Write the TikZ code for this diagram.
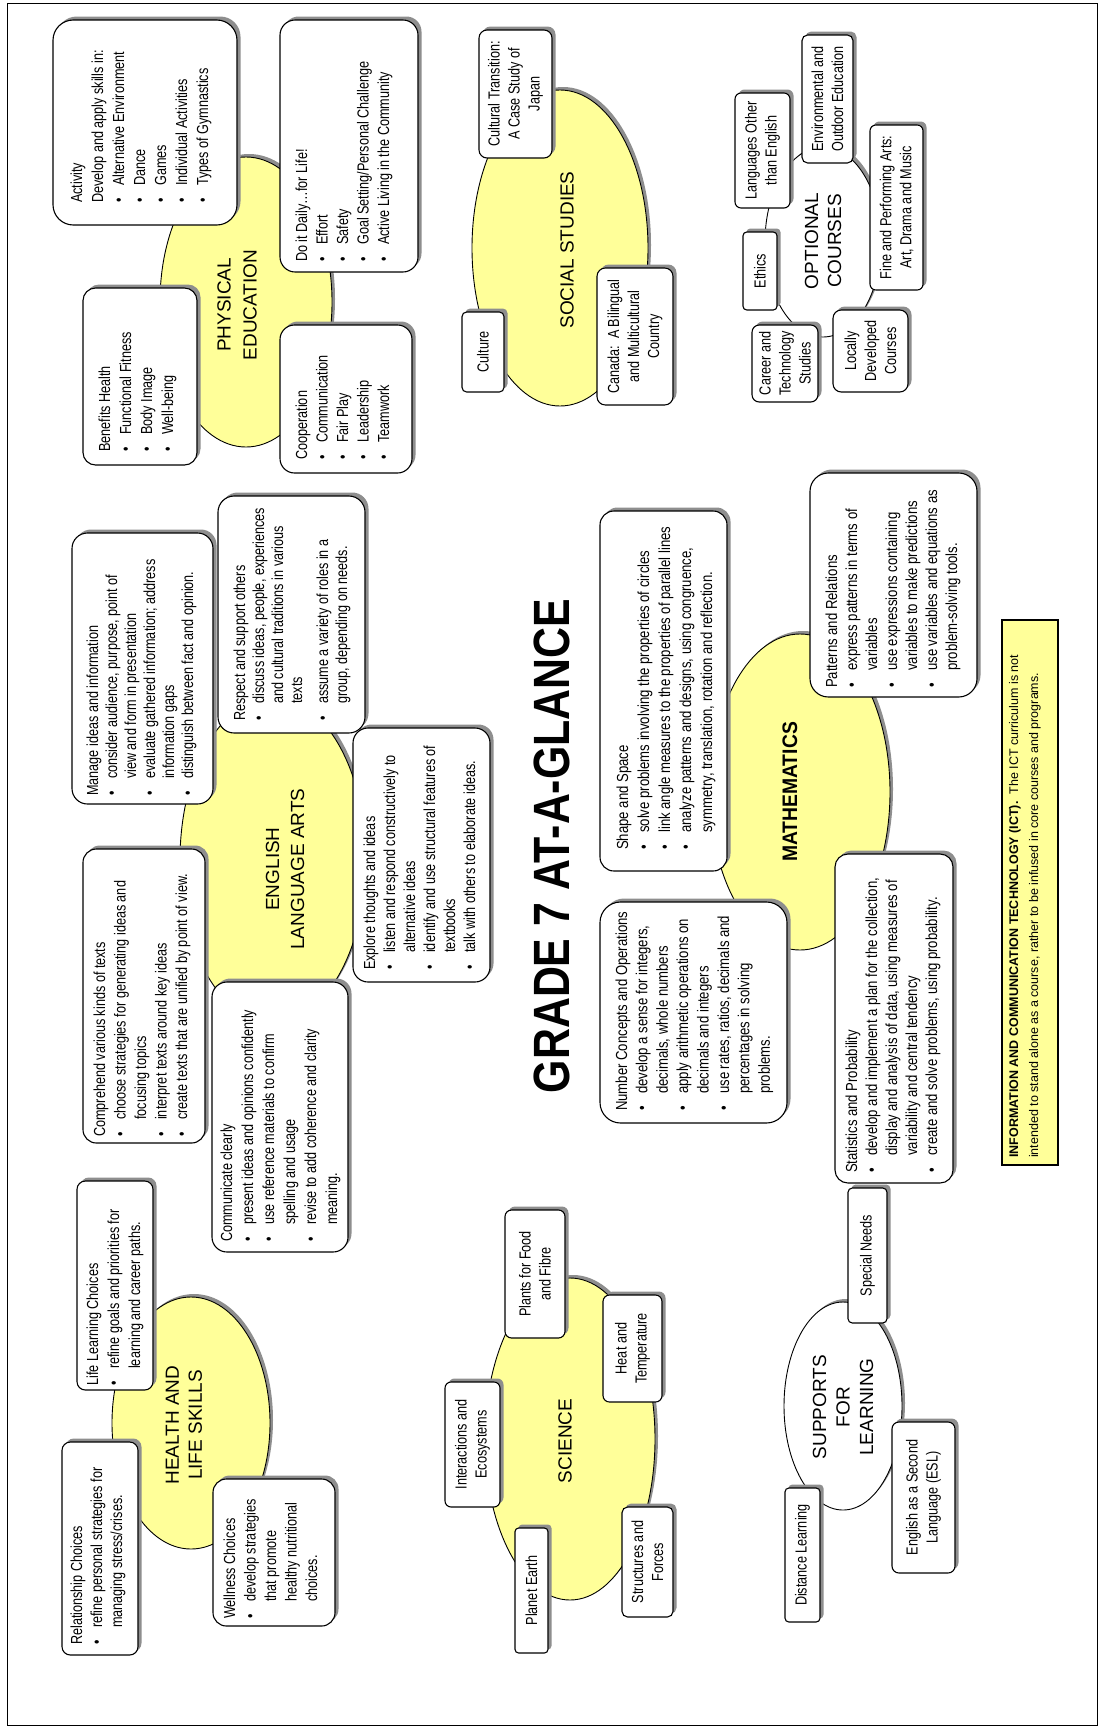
\documentclass[tikz,border=0pt]{standalone}
\usepackage{fontspec}
\setmainfont{Liberation Sans}
\newfontfamily\nar{Liberation Sans}[FakeStretch=0.79]
\newfontfamily\narm{Liberation Sans}[FakeStretch=0.82]
\newfontfamily\narM{Liberation Sans}[FakeStretch=0.92]
\newfontfamily\narT{Liberation Sans}[FakeStretch=0.84]
\usetikzlibrary{shapes.geometric}
\definecolor{yel}{HTML}{FFFF99}
\definecolor{shd}{HTML}{8E8E8E}
\tikzset{
  cbox/.style={draw=black, line width=1.1pt, fill=white, inner sep=0pt, outer sep=0pt},
  shbox/.style={fill=shd, draw=none, inner sep=0pt, outer sep=0pt},
  yell/.style={ellipse, draw=black, line width=0.9pt, fill=yel, inner sep=0pt},
  whel/.style={ellipse, draw=black, line width=0.9pt, fill=white, inner sep=0pt},
  shel/.style={ellipse, fill=shd, draw=none, inner sep=0pt},
  btxt/.style={rotate=90, anchor=base west, inner sep=0pt, font=\nar\fontsize{16pt}{20.5pt}\selectfont},
  ctxt/.style={rotate=90, inner sep=0pt, align=center, font=\nar\fontsize{16pt}{20pt}\selectfont},
  ttl/.style={rotate=90, inner sep=0pt, align=center},
  frame/.style={draw=black, line width=0.8pt, inner sep=0pt},
}
\newcommand\bul[1]{\par\noindent\hangindent=17pt\hangafter=1\makebox[17pt][l]{\textbullet}#1}
% box: name x1 y1 x2 y2
\newcommand\bx[5]{%
  \pgfmathsetmacro\bw{#4-#2}\pgfmathsetmacro\bh{#5-#3}%
  \pgfmathsetmacro\rr{0.11*min(\bw,\bh)}%
  \node[shbox, rounded corners=\rr pt, minimum width=\bw pt, minimum height=\bh pt] (#1-s) at ({(#2+#4)/2+3.5},{(#3+#5)/2-3.5}) {};
  \node[cbox, rounded corners=\rr pt, minimum width=\bw pt, minimum height=\bh pt] (#1) at ({(#2+#4)/2},{(#3+#5)/2}) {};
}
% text: name, baseline x, start y, width, content
\newcommand\tx[5]{%
  \node[btxt] (#1) at (#2,#3) {\parbox[t]{#4pt}{#5}};
}
% ellipse: name style cx cy rx ry
\newcommand\elp[6]{%
  \pgfmathsetmacro\ew{2*#5}\pgfmathsetmacro\eh{2*#6}%
  \node[shel, minimum width=\ew pt, minimum height=\eh pt] (#1-s) at ({#3+3},{#4-3}) {};
  \node[#2, minimum width=\ew pt, minimum height=\eh pt] (#1) at (#3,#4) {};
}
\begin{document}
\begin{tikzpicture}[x=1pt,y=-1pt]
\useasboundingbox (0,0) rectangle (1104,1729);
\node[frame, minimum width=1090pt, minimum height=1722pt] (pageframe) at (552,864) {};

% ---------- ellipses ----------
\elp{pe}{yell}{246}{302}{86}{145}
\elp{ss}{yell}{560}{248}{88}{158}
\elp{oc}{whel}{823}{242}{58}{95}
\elp{ela}{yell}{273}{860}{93}{163}
\elp{math}{yell}{800}{792}{90}{158}
\elp{hl}{yell}{191}{1423}{79}{126}
\elp{sci}{yell}{570}{1439}{85}{161}
\elp{sup}{whel}{843}{1406}{59}{104}

\node[ttl, font=\fontsize{19pt}{26pt}\selectfont] (pe-t) at (237,305) {PHYSICAL\\EDUCATION};
\node[ttl, font=\fontsize{19pt}{24pt}\selectfont] (ss-t) at (567,250) {SOCIAL STUDIES};
\node[ttl, font=\fontsize{19pt}{23pt}\selectfont] (oc-t) at (823,241) {OPTIONAL\\COURSES};
\node[ttl, font=\fontsize{19pt}{25pt}\selectfont] (ela-t) at (285,869) {ENGLISH\\LANGUAGE ARTS};
\node[ttl, font=\narM\bfseries\fontsize{21pt}{25pt}\selectfont] (math-t) at (790,792) {MATHEMATICS};
\node[ttl, font=\fontsize{19pt}{23pt}\selectfont] (hl-t) at (184,1425) {HEALTH AND\\LIFE SKILLS};
\node[ttl, font=\fontsize{19pt}{24pt}\selectfont] (sci-t) at (565,1441) {SCIENCE};
\node[ttl, font=\fontsize{19pt}{23.5pt}\selectfont] (sup-t) at (843,1407) {SUPPORTS\\FOR\\LEARNING};

% ---------- Physical education ----------
\bx{act}{53}{20}{237}{225}
\tx{act-t}{82}{203}{190}{\fontsize{16pt}{21pt}\selectfont Activity\\Develop and apply skills in:\bul{Alternative Environment}\bul{Dance}\bul{Games}\bul{Individual Activities}\bul{Types of Gymnastics}}
\bx{daily}{280}{20}{418}{272}
\tx{daily-t}{307}{262}{245}{Do it Daily…for Life!\bul{Effort}\bul{Safety}\bul{Goal Setting/Personal Challenge}\bul{Active Living in the Community}}
\bx{ben}{83}{288}{197}{465}
\tx{ben-t}{110}{452}{165}{\fontsize{16pt}{21pt}\selectfont Benefits Health\bul{Functional Fitness}\bul{Body Image}\bul{Well-being}}
\bx{coop}{280}{325}{412}{473}
\tx{coop-t}{307}{460}{140}{Cooperation\bul{Communication}\bul{Fair Play}\bul{Leadership}\bul{Teamwork}}

% ---------- Social studies ----------
\bx{cult}{479}{30}{552}{158}
\node[ctxt] (cult-t) at (cult.center) {Cultural Transition:\\A Case Study of\\Japan};
\bx{culture}{462}{312}{504}{392}
\node[ctxt] (culture-t) at (culture.center) {Culture};
\bx{canada}{597}{268}{673}{405}
\node[ctxt] (canada-t) at (canada.center) {Canada:\ \ A Bilingual\\and Multicultural\\Country};

% ---------- Optional courses ----------
\bx{lang}{735}{93}{790}{208}
\node[ctxt] (lang-t) at (lang.center) {Languages Other\\than English};
\bx{env}{802}{35}{853}{163}
\node[ctxt] (env-t) at (env.center) {Environmental and\\Outdoor Education};
\bx{ethics}{743}{232}{777}{310}
\node[ctxt] (ethics-t) at (ethics.center) {Ethics};
\bx{career}{752}{325}{818}{402}
\node[ctxt] (career-t) at (career.center) {Career and\\Technology\\Studies};
\bx{local}{833}{310}{908}{392}
\node[ctxt] (local-t) at (local.center) {Locally\\Developed\\Courses};
\bx{fine}{870}{125}{923}{290}
\node[ctxt] (fine-t) at (fine.center) {Fine and Performing Arts:\\Art, Drama and Music};

% ---------- English language arts ----------
\bx{manage}{72}{533}{213}{804}
\tx{manage-t}{98}{796}{265}{\fontsize{16pt}{19pt}\selectfont Manage ideas and information\bul{consider audience, purpose, point of\\view and form in presentation}\bul{evaluate gathered information; address\\information gaps}\bul{distinguish between fact and opinion.}}
\bx{respect}{218}{496}{365}{733}
\tx{respect-t}{245}{721}{230}{\fontsize{16pt}{19pt}\selectfont Respect and support others\bul{discuss ideas, people, experiences\\and cultural traditions in various\\texts}\vspace{7pt}\bul{assume a variety of roles in a\\group, depending on needs.}}
\bx{comp}{83}{849}{205}{1143}
\tx{comp-t}{105}{1137}{290}{Comprehend various kinds of texts\bul{choose strategies for generating ideas and\\focusing topics}\bul{interpret texts around key ideas}\bul{create texts that are unified by point of view.}}
\bx{commun}{212}{982}{348}{1252}
\tx{commun-t}{232}{1242}{262}{\fontsize{16pt}{21pt}\selectfont Communicate clearly\bul{present ideas and opinions confidently}\bul{use reference materials to confirm\\spelling and usage}\bul{revise to add coherence and clarity\\meaning.}}
\bx{explore}{353}{728}{490}{982}
\tx{explore-t}{375}{970}{245}{\fontsize{16pt}{20pt}\selectfont Explore thoughts and ideas\bul{listen and respond constructively to\\alternative ideas}\bul{identify and use structural features of\\textbooks}\bul{talk with others to elaborate ideas.}}

% ---------- Mathematics ----------
\bx{shape}{600}{511}{727}{871}
\tx{shape-t}{628}{850}{345}{\narm\fontsize{16pt}{21pt}\selectfont Shape and Space\bul{solve problems involving the properties of circles}\bul{link angle measures to the properties of parallel lines}\bul{analyze patterns and designs, using congruence,\\symmetry, translation, rotation and reflection.}}
\bx{patt}{810}{473}{977}{697}
\tx{patt-t}{837}{688}{215}{\narm\fontsize{16pt}{20pt}\selectfont Patterns and Relations\bul{express patterns in terms of\\variables}\bul{use expressions containing\\variables to make predictions}\bul{use variables and equations as\\problem-solving tools.}}
\bx{numc}{600}{902}{787}{1123}
\tx{numc-t}{627}{1111}{210}{\narm\fontsize{16pt}{20.4pt}\selectfont Number Concepts and Operations\bul{develop a sense for integers,\\decimals, whole numbers}\bul{apply arithmetic operations on\\decimals and integers}\bul{use rates, ratios, decimals and\\percentages in solving\\problems.}}
\bx{stat}{835}{854}{953}{1183}
\tx{stat-t}{857}{1173}{318}{\narm\fontsize{16pt}{20pt}\selectfont Statistics and Probability\bul{develop and implement a plan for the collection,\\display and analysis of data, using measures of\\variability and central tendency}\bul{create and solve problems, using probability.}}

% ---------- Health and life skills ----------
\bx{life}{77}{1181}{153}{1390}
\tx{life-t}{98}{1386}{205}{\fontsize{16pt}{21pt}\selectfont Life Learning Choices\bul{refine goals and priorities for\\learning and career paths.}}
\bx{rel}{62}{1442}{138}{1655}
\tx{rel-t}{82}{1645}{205}{\fontsize{16pt}{20pt}\selectfont Relationship Choices\bul{refine personal strategies for\\managing stress/crises.}}
\bx{well}{213}{1479}{335}{1626}
\tx{well-t}{235}{1619}{140}{Wellness Choices\bul{develop strategies\\that promote\\healthy nutritional\\choices.}}

% ---------- Science ----------
\bx{inter}{445}{1382}{500}{1507}
\node[ctxt] (inter-t) at (inter.center) {Interactions and\\Ecosystems};
\bx{plants}{505}{1210}{565}{1338}
\node[ctxt] (plants-t) at (plants.center) {Plants for Food\\and Fibre};
\bx{heat}{603}{1295}{662}{1402}
\node[ctxt] (heat-t) at (heat.center) {Heat and\\Temperature};
\bx{planet}{515}{1528}{548}{1653}
\node[ctxt] (planet-t) at (planet.center) {Planet Earth};
\bx{struct}{622}{1507}{673}{1617}
\node[ctxt] (struct-t) at (struct.center) {Structures and\\Forces};

% ---------- Supports for learning ----------
\bx{dist}{785}{1488}{820}{1622}
\node[ctxt] (dist-t) at (dist.center) {Distance Learning};
\bx{esl}{892}{1422}{955}{1573}
\node[ctxt] (esl-t) at (esl.center) {English as a Second\\Language (ESL)};
\bx{special}{848}{1188}{887}{1323}
\node[ctxt] (special-t) at (special.center) {Special Needs};

% ---------- Title ----------
\node[rotate=90, inner sep=0pt, font=\narT\bfseries\fontsize{51pt}{60pt}\selectfont] (title) at (552,846) {GRADE 7 AT-A-GLANCE};

% ---------- ICT ----------
\node[draw=black, line width=1.1pt, fill=yel, inner sep=0pt, minimum width=56pt, minimum height=545pt] (ict) at (1030,892.5) {};
\node[rotate=90, anchor=base west, inner sep=0pt, font=\fontsize{12.5pt}{20pt}\selectfont] (ict-t) at (1018,1158) {\parbox[t]{540pt}{\textbf{INFORMATION AND COMMUNICATION TECHNOLOGY (ICT).}\ \ The ICT curriculum is not\\intended to stand alone as a course, rather to be infused in core courses and programs.}};
\end{tikzpicture}
\end{document}
